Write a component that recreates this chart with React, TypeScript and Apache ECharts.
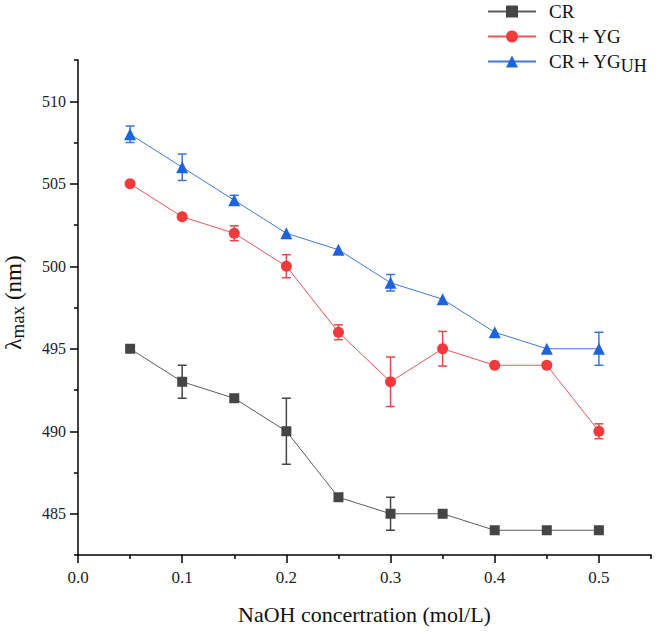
import React, { useEffect, useRef } from "react";
import * as echarts from "echarts";

const concentrations = [0.05, 0.1, 0.15, 0.2, 0.25, 0.3, 0.35, 0.4, 0.45, 0.5];
const crValues = [495, 493, 492, 490, 486, 485, 485, 484, 484, 484];
const crErrors = [0, 1.0, 0, 2.0, 0, 1.0, 0, 0, 0, 0];
const ygValues = [505, 503, 502, 500, 496, 493, 495, 494, 494, 490];
const ygErrors = [0, 0, 0.45, 0.7, 0.45, 1.5, 1.05, 0, 0, 0.45];
const uhValues = [508, 506, 504, 502, 501, 499, 498, 496, 495, 495];
const uhErrors = [0.5, 0.8, 0.3, 0, 0, 0.5, 0, 0, 0, 1.0];

const xMajorTicks = [0, 0.1, 0.2, 0.3, 0.4, 0.5];
const xMinorTicks = [0.05, 0.15, 0.25, 0.35, 0.45, 0.55];
const yMajorTicks = [485, 490, 495, 500, 505, 510];
const yMinorTicks = [482.5, 487.5, 492.5, 497.5, 502.5, 507.5, 512.5];

const seriesNames = ["CR", "CR＋YG", "CR＋YG_UH"];

const FONT = "'Liberation Serif', 'Times New Roman', serif";

export default function App() {
  const ref = useRef<HTMLDivElement>(null);
  useEffect(() => {
    if (!ref.current) return;
    const chart = echarts.init(ref.current, null, { renderer: "svg" });

    const pairs = (vals: number[]) => concentrations.map((c, i) => [c, vals[i]]);
    const errData = (vals: number[], errs: number[]) =>
      concentrations
        .map((c, i) => [c, vals[i], errs[i]])
        .filter((d) => d[2] > 0);

    const errSeries = (data: number[][], color: string) => ({
      type: "custom",
      xAxisIndex: 0,
      yAxisIndex: 0,
      z: 1,
      silent: true,
      data,
      renderItem: (params: any, api: any) => {
        const x = api.value(0);
        const y = api.value(1);
        const e = api.value(2);
        const top = api.coord([x, y + e]);
        const bot = api.coord([x, y - e]);
        const hw = 4.5;
        const st = { stroke: color, lineWidth: 1.5 };
        return {
          type: "group",
          children: [
            { type: "line", shape: { x1: top[0], y1: top[1], x2: bot[0], y2: bot[1] }, style: st },
            { type: "line", shape: { x1: top[0] - hw, y1: top[1], x2: top[0] + hw, y2: top[1] }, style: st },
            { type: "line", shape: { x1: bot[0] - hw, y1: bot[1], x2: bot[0] + hw, y2: bot[1] }, style: st },
          ],
        };
      },
    });

    const lineSeries = (name: string, vals: number[], symbol: string, size: number, lineColor: string, markColor: string) => ({
      name,
      type: "line",
      xAxisIndex: 0,
      yAxisIndex: 0,
      z: 3,
      data: pairs(vals),
      symbol,
      symbolSize: size,
      showAllSymbol: true,
      lineStyle: { color: lineColor, width: 1 },
      itemStyle: { color: markColor },
    });

    const xTickRich = { t: { fontFamily: FONT, fontSize: 17, color: "#222" } };
    const yTickRich = { t: { fontFamily: FONT, fontSize: 16, color: "#222" } };

    chart.setOption({
      animation: false,
      backgroundColor: "#ffffff",
      textStyle: { fontFamily: FONT },
      grid: { left: 78, right: 10, top: 60, bottom: 78, containLabel: false, outerBoundsMode: "none" },
      legend: {
        orient: "vertical",
        left: 482,
        top: -3,
        itemWidth: 48,
        itemHeight: 15,
        itemGap: 6,
        data: seriesNames,
        formatter: (n: string) => (n === "CR＋YG_UH" ? "{m|CR＋YG}{sub|UH}" : "{m|" + n + "}"),
        textStyle: {
          fontFamily: FONT,
          fontSize: 19,
          color: "#111",
          padding: [0, 0, 0, 8],
          rich: {
            m: { fontFamily: FONT, fontSize: 19, color: "#111" },
            sub: { fontFamily: FONT, fontSize: 18, color: "#111", verticalAlign: "bottom", padding: [9, 0, 0, 0] },
          },
        },
      },
      xAxis: [
        {
          type: "value",
          min: 0,
          max: 0.55,
          position: "bottom",
          name: "{t|NaOH concertration (mol/L)}",
          nameLocation: "middle",
          nameGap: 48,
          nameTextStyle: { fontFamily: FONT, fontSize: 22, color: "#111", rich: { t: { fontFamily: FONT, fontSize: 22, color: "#111" } } },
          axisLine: { show: true, onZero: false, lineStyle: { color: "#000", width: 1.5 } },
          axisTick: { show: true, inside: false, length: 8, customValues: xMajorTicks, lineStyle: { color: "#000", width: 1.5 } },
          axisLabel: {
            fontFamily: FONT,
            fontSize: 17,
            color: "#222",
            rich: xTickRich,
            customValues: xMajorTicks,
            formatter: (v: number) => "{t|" + v.toFixed(1) + "}",
            margin: 14,
          },
          splitLine: { show: false },
        },
        {
          type: "value",
          min: 0,
          max: 0.55,
          position: "bottom",
          axisLine: { show: false, onZero: false },
          axisTick: { show: true, inside: false, length: 4, customValues: xMinorTicks, lineStyle: { color: "#000", width: 1.5 } },
          axisLabel: { show: false },
          splitLine: { show: false },
        },
      ],
      yAxis: [
        {
          type: "value",
          min: 482.5,
          max: 512.5,
          position: "left",
          name: "{l|λ}{sub|max}{l| (nm)}",
          nameLocation: "middle",
          nameGap: 51,
          nameRotate: 90,
          nameTextStyle: {
            fontFamily: FONT,
            color: "#111",
            padding: [0, 0, 0, 10],
            rich: {
              l: { fontFamily: FONT, fontSize: 23, color: "#111" },
              sub: { fontFamily: FONT, fontSize: 19, color: "#111", verticalAlign: "bottom", padding: [9, 0, 0, 0] },
            },
          },
          axisLine: { show: true, onZero: false, lineStyle: { color: "#000", width: 1.5 } },
          axisTick: { show: true, inside: false, length: 8, customValues: yMajorTicks, lineStyle: { color: "#000", width: 1.5 } },
          axisLabel: {
            fontFamily: FONT,
            fontSize: 16,
            color: "#222",
            rich: yTickRich,
            customValues: yMajorTicks,
            formatter: (v: number) => "{t|" + String(v) + "}",
            margin: 12,
          },
          splitLine: { show: false },
        },
        {
          type: "value",
          min: 482.5,
          max: 512.5,
          position: "left",
          axisLine: { show: false, onZero: false },
          axisTick: { show: true, inside: false, length: 4, customValues: yMinorTicks, lineStyle: { color: "#000", width: 1.5 } },
          axisLabel: { show: false },
          splitLine: { show: false },
        },
      ],
      series: [
        errSeries(errData(crValues, crErrors), "#454545"),
        errSeries(errData(ygValues, ygErrors), "#e8474a"),
        errSeries(errData(uhValues, uhErrors), "#3a77d6"),
        lineSeries(seriesNames[0], crValues, "rect", 10, "#5c5c5c", "#454545"),
        lineSeries(seriesNames[1], ygValues, "circle", 11, "#e8575a", "#f23a3c"),
        lineSeries(seriesNames[2], uhValues, "triangle", 12, "#3f7ad8", "#1c63dc"),
      ],
    });
    return () => chart.dispose();
  }, []);
  return <div ref={ref} style={{ position: "fixed", left: 0, top: 0, width: 661, height: 633 }} />;
}
